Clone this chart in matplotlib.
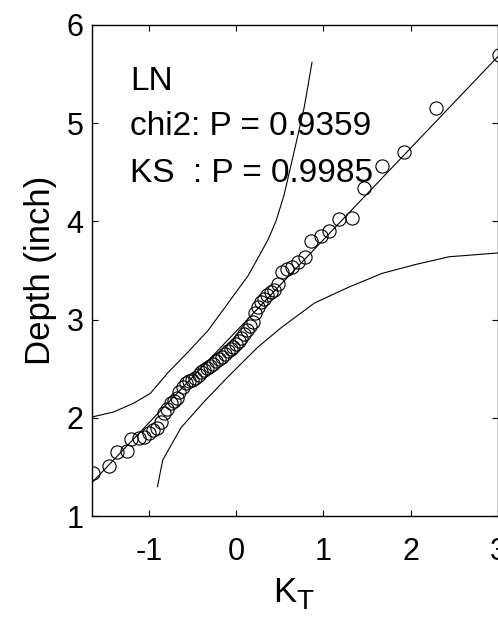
import matplotlib
matplotlib.use("Agg")
import matplotlib.pyplot as plt

plt.rcParams["font.family"] = ["Liberation Sans", "DejaVu Sans"]
plt.rcParams["axes.unicode_minus"] = False

# observed depths vs frequency factor K_T
obs_k = [-1.64, -1.46, -1.36, -1.25, -1.20, -1.11, -1.06, -1.00, -0.95, -0.91,
         -0.86, -0.82, -0.79, -0.75, -0.71, -0.68, -0.65, -0.61, -0.57, -0.54,
         -0.50, -0.47, -0.43, -0.40, -0.37, -0.33, -0.30, -0.26, -0.23, -0.19,
         -0.16, -0.13, -0.09, -0.06, -0.03, 0.00, 0.03, 0.06, 0.09, 0.13,
         0.16, 0.19, 0.22, 0.25, 0.28, 0.32, 0.36, 0.40, 0.44, 0.48,
         0.53, 0.58, 0.64, 0.71, 0.79, 0.86, 0.97, 1.07, 1.18, 1.33,
         1.47, 1.67, 1.92, 2.29, 3.01]
obs_depth = [1.44, 1.51, 1.65, 1.66, 1.78, 1.79, 1.80, 1.85, 1.88, 1.90,
             1.96, 2.05, 2.09, 2.15, 2.17, 2.20, 2.26, 2.31, 2.35, 2.37,
             2.39, 2.41, 2.44, 2.47, 2.49, 2.51, 2.53, 2.55, 2.58, 2.60,
             2.62, 2.65, 2.68, 2.70, 2.72, 2.75, 2.78, 2.81, 2.85, 2.89,
             2.93, 2.98, 3.07, 3.13, 3.18, 3.21, 3.25, 3.28, 3.30, 3.36,
             3.48, 3.52, 3.54, 3.59, 3.64, 3.80, 3.85, 3.90, 4.02, 4.03,
             4.34, 4.56, 4.71, 5.15, 5.69]

# fitted LN line
fit_k = [-1.65, 3.0]
fit_depth = [1.34, 5.68]

# confidence limits
upper_k = [-1.64, -1.40, -1.17, -0.98, -0.78, -0.55, -0.32, -0.09, 0.14, 0.37,
           0.46, 0.55, 0.67, 0.78, 0.87]
upper_depth = [2.01, 2.06, 2.15, 2.25, 2.46, 2.67, 2.89, 3.17, 3.45, 3.82,
               4.01, 4.27, 4.73, 5.16, 5.62]
lower_k = [-0.90, -0.84, -0.63, -0.37, -0.09, 0.25, 0.52, 0.90, 1.29, 1.67,
           2.05, 2.44, 3.02]
lower_depth = [1.30, 1.57, 1.90, 2.16, 2.42, 2.72, 2.92, 3.17, 3.33, 3.47,
               3.56, 3.64, 3.68]

fig = plt.figure(figsize=(4.98, 6.21), dpi=100)
ax = fig.add_axes([92 / 498, 1 - 516 / 621, 406 / 498, 491 / 621])

ax.plot(fit_k, fit_depth, color="black", lw=0.8)
ax.plot(upper_k, upper_depth, color="black", lw=0.8)
ax.plot(lower_k, lower_depth, color="black", lw=0.8)
ax.plot(obs_k, obs_depth, "o", mfc="none", mec="black", ms=9.5, mew=0.8)

ax.text(-1.21, 5.34, "LN", fontsize=24)
ax.text(-1.21, 4.88, "chi2: P = 0.9359", fontsize=24)
ax.text(-1.21, 4.40, "KS  : P = 0.9985", fontsize=24)

ax.set_xlim(-1.65, 3.0)
ax.set_ylim(1, 6)
ax.set_xticks([-1, 0, 1, 2, 3])
ax.set_yticks([1, 2, 3, 4, 5, 6])
ax.tick_params(direction="in", top=True, right=True, length=4, width=0.8,
               labelsize=22)
ax.tick_params(axis="x", pad=15)
ax.tick_params(axis="y", pad=6)
for s in ax.spines.values():
    s.set_linewidth(1.0)

ax.set_ylabel("Depth (inch)", fontsize=25, labelpad=7)

# x label K with a large, low subscript T
fig.text(273 / 498, 1 - 602 / 621, "K", fontsize=25, ha="left", va="baseline")
fig.text(296 / 498, 1 - 589 / 621, "T", fontsize=20, ha="left", va="top")

fig.savefig("out.png", dpi=100)
